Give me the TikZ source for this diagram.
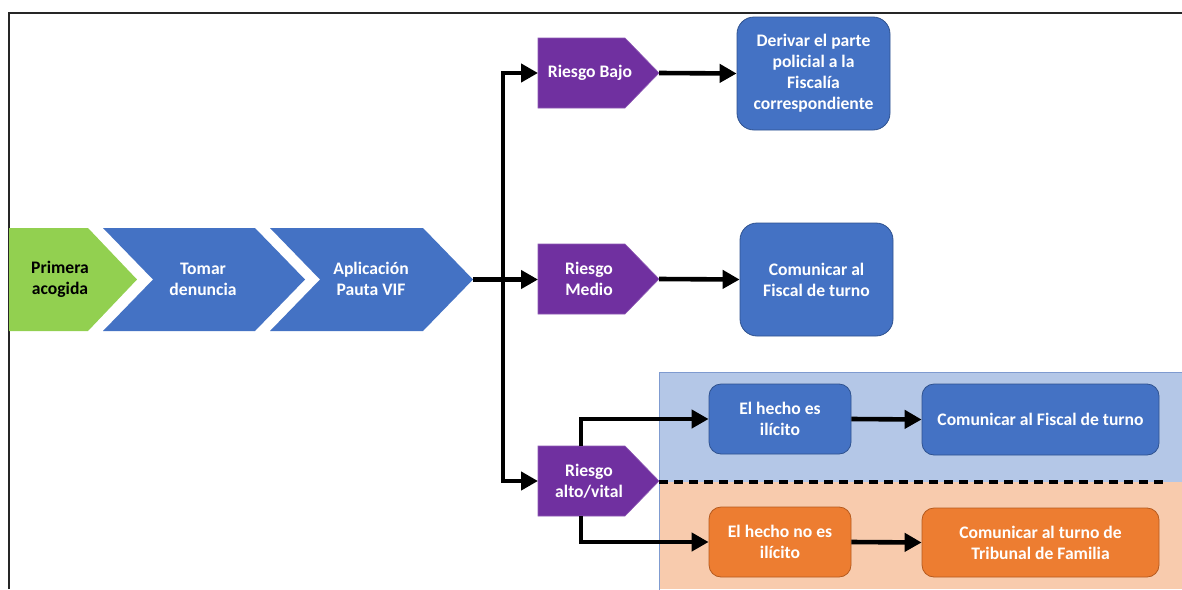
\documentclass[tikz,border=0pt]{standalone}
\usepackage{fontspec}
\setmainfont{Carlito}
\usetikzlibrary{arrows.meta}
\definecolor{cgreen}{HTML}{92D050}
\definecolor{cblue}{HTML}{4472C4}
\definecolor{cblueedge}{HTML}{2F528F}
\definecolor{cpurple}{HTML}{7030A0}
\definecolor{corange}{HTML}{ED7D31}
\definecolor{corangeedge}{HTML}{B55A1E}
\definecolor{clightblue}{HTML}{B4C7E7}
\definecolor{clightorange}{HTML}{F8CBAD}
\definecolor{cregionedge}{HTML}{7F9BD0}
\tikzset{
  lbl/.style={inner sep=0pt, align=center, text=white,
    font=\fontsize{17.6}{21}\selectfont\bfseries},
  box/.style={lbl, draw=cblueedge, line width=0.8pt, fill=cblue, rounded corners=17pt},
  smallbox/.style={box, rounded corners=12pt},
  obox/.style={smallbox, fill=corange, draw=corangeedge},
  flow/.style={line width=4.6pt, -{Triangle[length=17pt, width=18pt]}},
  chev/.style={fill=cblue},
  risk/.style={fill=cpurple, draw=cpurple!80!white, line width=0.6pt},
}
\begin{document}
\begin{tikzpicture}[x=1pt, y=-1pt]
\useasboundingbox (0,0) rectangle (1182,589);
\fill[white] (0,0) rectangle (1182,589);

% outer frame (top and left edges)
\draw[line width=2pt, black!85] (8.5,589) -- (8.5,13) -- (1182,13);

% shaded regions for the high-risk branch
\fill[clightblue] (659,372) rectangle (1182,482);
\fill[clightorange] (659,482) rectangle (1182,589);
\draw[cregionedge, line width=0.8pt] (1183,372) -- (659,372) -- (659,590);
\draw[line width=3.4pt, dash pattern=on 9pt off 6pt] (659,482) -- (1168,482);

% process chevrons
\fill[cgreen] (9,228) -- (88,228) -- (137,279.5) -- (88,331) -- (9,331) -- cycle;
\node[lbl, text=black] (pa) at (60,279) {Primera\\acogida};
\fill[chev] (103,228) -- (255,228) -- (305,279.5) -- (255,331) -- (103,331) -- (153,279.5) -- cycle;
\node[lbl] (td) at (203,279) {Tomar\\denuncia};
\fill[chev] (270,228) -- (423,228) -- (473,279.5) -- (423,331) -- (270,331) -- (320,279.5) -- cycle;
\node[lbl] (ap) at (371,279) {Aplicación\\Pauta VIF};
\coordinate (ap-tip) at (473,279.5);

% risk levels
\path[risk] (538,38) -- (625,38) -- (659,73) -- (625,108) -- (538,108) -- cycle;
\node[lbl] (rb) at (590,73) {Riesgo Bajo};
\coordinate (rb-w) at (538,73);
\coordinate (rb-e) at (659,73);

\path[risk] (538,244) -- (625,244) -- (659,279) -- (625,314) -- (538,314) -- cycle;
\node[lbl] (rm) at (589,279) {Riesgo\\Medio};
\coordinate (rm-w) at (538,279.5);
\coordinate (rm-e) at (659,279);

\path[risk] (538,446) -- (625,446) -- (659,481) -- (625,516) -- (538,516) -- cycle;
\node[lbl] (ra) at (589,481) {Riesgo\\alto/vital};
\coordinate (ra-w) at (538,481);
\coordinate (ra-n) at (581,446);
\coordinate (ra-s) at (581,516);

% outcome boxes
\node[box, minimum width=153pt, minimum height=113pt] (der) at (813.5,73.5)
  {Derivar el parte\\policial a la\\Fiscalía\\correspondiente};
\node[box, minimum width=153pt, minimum height=113pt] (cfm) at (816.5,279.5)
  {Comunicar al\\Fiscal de turno};
\node[smallbox, minimum width=142pt, minimum height=70pt] (hi) at (780,419)
  {El hecho es\\ilícito};
\node[smallbox, minimum width=237pt, minimum height=71pt] (cf) at (1040.5,419.5)
  {Comunicar al Fiscal de turno};
\node[obox, minimum width=142pt, minimum height=70pt] (hn) at (780,542)
  {El hecho no es\\ilícito};
\node[obox, minimum width=237pt, minimum height=69pt] (ct) at (1040.5,542.5)
  {Comunicar al turno de\\Tribunal de Familia};

% connectors
\draw[flow] (ap-tip) -- (rm-w);
\draw[flow] (ap-tip) -- ++(30,0) |- (rb-w);
\draw[flow] (ap-tip) -- ++(30,0) |- (ra-w);
\draw[flow] (rb-e) -- (der.west);
\draw[flow] (rm-e) -- (cfm.west);
\draw[flow] (ra-n) |- (hi.west);
\draw[flow] (ra-s) |- (hn.west);
\draw[flow] (hi.east) -- (cf.west);
\draw[flow] (hn.east) -- (ct.west);
\end{tikzpicture}
\end{document}
